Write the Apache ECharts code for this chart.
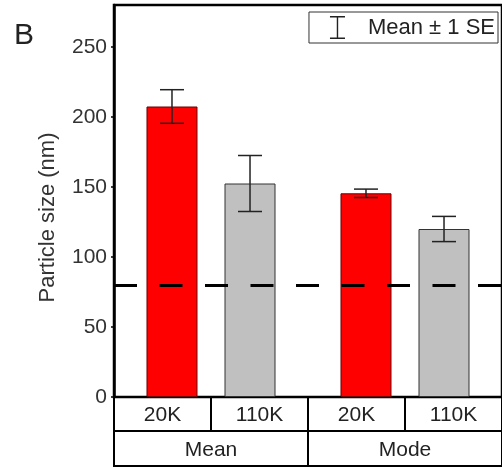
<!DOCTYPE html>
<html>
<head>
<meta charset="utf-8">
<title>Particle size</title>
<script src="https://cdn.jsdelivr.net/npm/echarts@6/dist/echarts.min.js"></script>
<style>
  html, body { margin: 0; padding: 0; background: #fff; }
  #chart { width: 502px; height: 468px; }
</style>
</head>
<body>
<div id="chart"></div>
<script type="text/javascript">
// data
var groups = ['Mean', 'Mode'];
var sizeLabels = ['20K', '110K', '20K', '110K'];
var yTicks = [0, 50, 100, 150, 200, 250];
var mean20K = [207.5, 145.5];
var mean110K = [152.5, 120];
var se20K = [12, 3];
var se110K = [20, 9];
var refLine = 80;
var legendName = 'Mean \u00b1 1 SE';

var BAR_W = 51;
var BAR_GAP = 0.53;

// error bar rows: [group, series, low, high]
var errData = [];
for (var i = 0; i < groups.length; i++) {
    errData.push([i, 0, mean20K[i] - se20K[i], mean20K[i] + se20K[i]]);
    errData.push([i, 1, mean110K[i] - se110K[i], mean110K[i] + se110K[i]]);
}

var font = 'Liberation Sans, Arial, sans-serif';
var myChart = echarts.init(document.getElementById('chart'));

function renderErr(params, api) {
    var cat = api.value(0), s = api.value(1);
    var lo = api.coord([cat, api.value(2)]);
    var hi = api.coord([cat, api.value(3)]);
    var x = lo[0] + (s - 0.5) * BAR_W * (1 + BAR_GAP);
    var cap = 12;
    var st = { stroke: '#222', lineWidth: 1.5 };
    return {
        type: 'group',
        children: [
            { type: 'line', shape: { x1: x, y1: hi[1], x2: x, y2: lo[1] }, style: st },
            { type: 'line', shape: { x1: x - cap, y1: hi[1], x2: x + cap, y2: hi[1] }, style: st },
            { type: 'line', shape: { x1: x - cap, y1: lo[1], x2: x + cap, y2: lo[1] }, style: st }
        ]
    };
}

var rowAxis = function (idx, data) {
    return {
        type: 'category',
        gridIndex: idx,
        data: data,
        position: 'bottom',
        axisLine: { show: false },
        axisTick: { show: false },
        splitLine: { show: true, interval: 0, lineStyle: { color: '#000', width: 2 } },
        axisLabel: {
            inside: true, margin: 16, verticalAlign: 'middle', interval: 0,
            fontSize: 21, color: '#222', fontFamily: font
        }
    };
};

myChart.setOption({
    animation: false,
    backgroundColor: '#fff',
    title: {
        text: 'B', left: 9, top: 16,
        textStyle: { fontSize: 30, fontWeight: 'normal', color: '#222', fontFamily: font }
    },
    legend: {
        right: 4, top: 12,
        orient: 'horizontal',
        borderColor: '#333', borderWidth: 1,
        padding: [4, 3, 4, 21],
        itemWidth: 15, itemHeight: 23,
        selectedMode: false,
        data: [{
            name: legendName,
            icon: 'path://M0,0H15V1.5H8.2V21.5H15V23H0V21.5H6.8V1.5H0Z',
            itemStyle: { color: '#222' }
        }],
        textStyle: { fontSize: 22, color: '#222', fontFamily: font, padding: [0, 0, 0, 18] }
    },
    grid: [
        { left: 114, top: 5, width: 392, height: 392, show: true, borderColor: '#000', borderWidth: 2.5 },
        { left: 114, top: 397, width: 392, height: 34, show: true, borderColor: '#000', borderWidth: 2 },
        { left: 114, top: 431, width: 392, height: 35, show: true, borderColor: '#000', borderWidth: 2 }
    ],
    xAxis: [
        {
            type: 'category', gridIndex: 0, data: groups,
            axisLine: { show: false }, axisTick: { show: false }, axisLabel: { show: false }
        },
        rowAxis(1, sizeLabels),
        rowAxis(2, groups)
    ],
    yAxis: [
        {
            type: 'value', gridIndex: 0, min: 0, max: 280,
            name: 'Particle size (nm)',
            nameLocation: 'middle', nameGap: 55,
            nameTextStyle: { fontSize: 22, color: '#333', fontFamily: font, padding: [0, 33, 0, 0] },
            axisLine: { show: true, lineStyle: { color: '#000', width: 2.5 } },
            axisTick: { show: true, length: 3, customValues: yTicks, lineStyle: { color: '#000', width: 1.5 } },
            axisLabel: { customValues: yTicks, margin: 7, fontSize: 21, color: '#333', fontFamily: font },
            splitLine: { show: false }
        },
        { type: 'value', gridIndex: 1, show: false },
        { type: 'value', gridIndex: 2, show: false }
    ],
    series: [
        {
            name: '20K', type: 'bar', data: mean20K,
            barWidth: BAR_W, barGap: (BAR_GAP * 100) + '%',
            itemStyle: { color: '#ff0000', borderColor: '#6a0000', borderWidth: 1 },
            markLine: {
                silent: true, symbol: 'none', label: { show: false },
                lineStyle: { color: '#000', width: 3, type: [23, 22.5] },
                data: [{ yAxis: refLine }]
            }
        },
        {
            name: '110K', type: 'bar', data: mean110K,
            barWidth: BAR_W, barGap: (BAR_GAP * 100) + '%',
            itemStyle: { color: '#c0c0c0', borderColor: '#333', borderWidth: 1 }
        },
        {
            name: legendName, type: 'custom', data: errData,
            renderItem: renderErr,
            encode: { x: 0, y: [2, 3] },
            itemStyle: { color: '#222' },
            z: 3
        }
    ]
});
</script>
</body>
</html>
